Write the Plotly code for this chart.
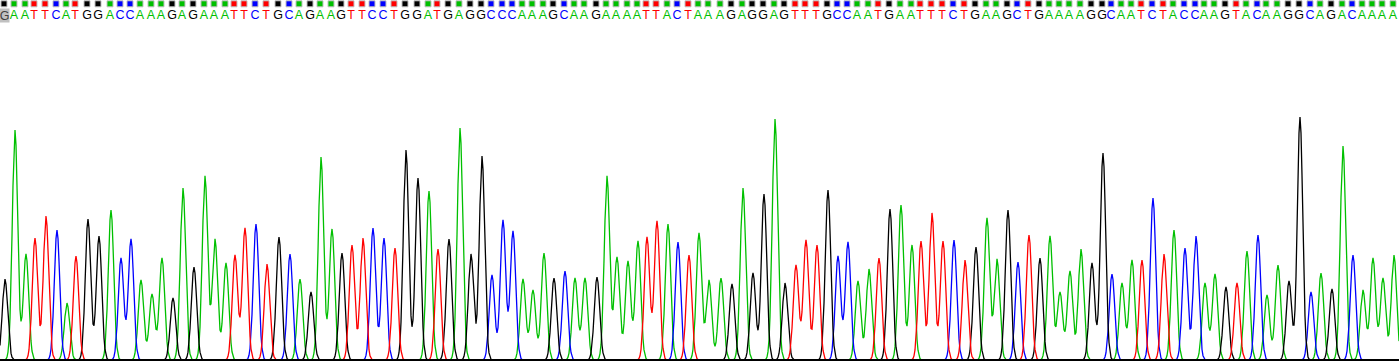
import numpy as np
import plotly.graph_objects as go

# ---- data ----
bases = list("GAATTCATGGACCAAAGAGAAATTCTGCAGAAGTTCCTGGATGAGGCCCAAAGCAAGAAAATTACT"
             "AAAGAGGAGTTTGCCAATGAATTTCTGAAGCTGAAAAGGCAATCTACCAAGTACAAGGCAGACAAAA")

peak_pos = [5, 15, 26, 35, 46, 57, 67, 76, 88, 99, 111, 121, 131, 141, 152, 162, 173, 183, 194, 205,
            215, 226, 235, 245, 256, 267, 279, 290, 300, 311, 321, 332, 342, 352, 363, 373, 384, 395, 406, 418,
            429, 438, 449, 460, 471, 482, 492, 503, 513, 523, 533, 544, 554, 565, 575, 585, 597, 607, 617, 628,
            638, 647, 657, 668, 678, 689, 699, 709, 721, 732, 743, 753, 764, 775, 785, 796, 806, 817, 828, 838,
            848, 858, 869, 879, 890, 901, 912, 921, 932, 943, 954, 965, 976, 987, 997, 1008, 1018, 1029, 1040, 1050,
            1060, 1070, 1081, 1092, 1103, 1112, 1122, 1132, 1142, 1153, 1164, 1174, 1185, 1196, 1205, 1215, 1226, 1237, 1247, 1258,
            1267, 1278, 1289, 1300, 1311, 1321, 1332, 1343, 1353, 1363, 1373, 1383, 1394]

peak_height = [81, 230, 106, 122, 144, 130, 57, 104, 141, 124, 150, 102, 121, 80, 66, 102, 62, 172, 93, 184,
               121, 97, 105, 132, 136, 96, 123, 106, 81, 68, 203, 131, 107, 115, 122, 132, 122, 112, 210, 182,
               169, 111, 121, 232, 106, 204, 85, 140, 129, 81, 70, 107, 82, 89, 82, 82, 83, 184, 103, 99,
               119, 123, 139, 136, 118, 105, 127, 80, 82, 76, 172, 87, 166, 241, 77, 95, 120, 115, 170, 104,
               118, 79, 91, 102, 151, 155, 115, 119, 147, 119, 120, 100, 113, 142, 101, 150, 98, 125, 102, 124,
               68, 89, 111, 97, 207, 86, 77, 100, 100, 162, 106, 130, 112, 124, 77, 86, 73, 77, 109, 125,
               65, 95, 79, 243, 68, 87, 71, 214, 105, 70, 102, 82, 105]

base_order = ["A", "C", "G", "T"]
base_colors = {"A": "#00C000", "C": "#0000FF", "G": "#000000", "T": "#FF0000"}

# ---- build traces ----
W, H = 1399, 361
SIGMA = 2.7
xs = np.arange(0, W + 1, 1.0)
pos = np.array(peak_pos, dtype=float)
hts = np.array(peak_height, dtype=float)
bs = np.array(bases)

fig = go.Figure()
for b in base_order:
    sel = bs == b
    y = np.zeros_like(xs)
    for p, h in zip(pos[sel], hts[sel]):
        y += h * np.exp(-0.5 * ((xs - p) / SIGMA) ** 2)
    fig.add_trace(go.Scatter(x=xs, y=y, mode="lines",
                             line=dict(color=base_colors[b], width=1.3),
                             hoverinfo="skip", showlegend=False))

# header: colored squares and base letters
TOP = 360.0
sq_y = TOP - 3.8
letter_y = TOP - 15.5
fig.add_trace(go.Scatter(
    x=pos - 1, y=[sq_y] * len(bases), mode="markers",
    marker=dict(symbol="square", size=6, color=[base_colors[b] for b in bases],
                line=dict(color="#C0C0C0", width=1)),
    hoverinfo="skip", showlegend=False, cliponaxis=False))

fig.add_trace(go.Scatter(
    x=(pos - 1)[1:], y=[letter_y] * (len(bases) - 1), mode="text",
    text=bases[1:], textposition="middle center",
    textfont=dict(family="Liberation Sans", size=12.5, color=[base_colors[b] for b in bases[1:]]),
    hoverinfo="skip", showlegend=False, cliponaxis=False))

# first (selected) base shown with grey highlight
fig.add_annotation(x=pos[0] - 1, y=letter_y, xref="x", yref="y", text=bases[0],
                   showarrow=False, bgcolor="#C0C0C0", width=9, height=13,
                   borderpad=0,
                   font=dict(family="Liberation Sans", size=12.5, color="#404040"))

fig.update_layout(
    width=W, height=H,
    margin=dict(l=0, r=0, t=0, b=2, pad=0),
    paper_bgcolor="white", plot_bgcolor="white",
    xaxis=dict(range=[0, W], showgrid=False, zeroline=False, showticklabels=False,
               ticks="", showline=True, linecolor="black", linewidth=2, fixedrange=True),
    yaxis=dict(range=[1, TOP], showgrid=False, zeroline=False, showticklabels=False,
               ticks="", showline=False, fixedrange=True),
)

fig.write_html("out.html")
